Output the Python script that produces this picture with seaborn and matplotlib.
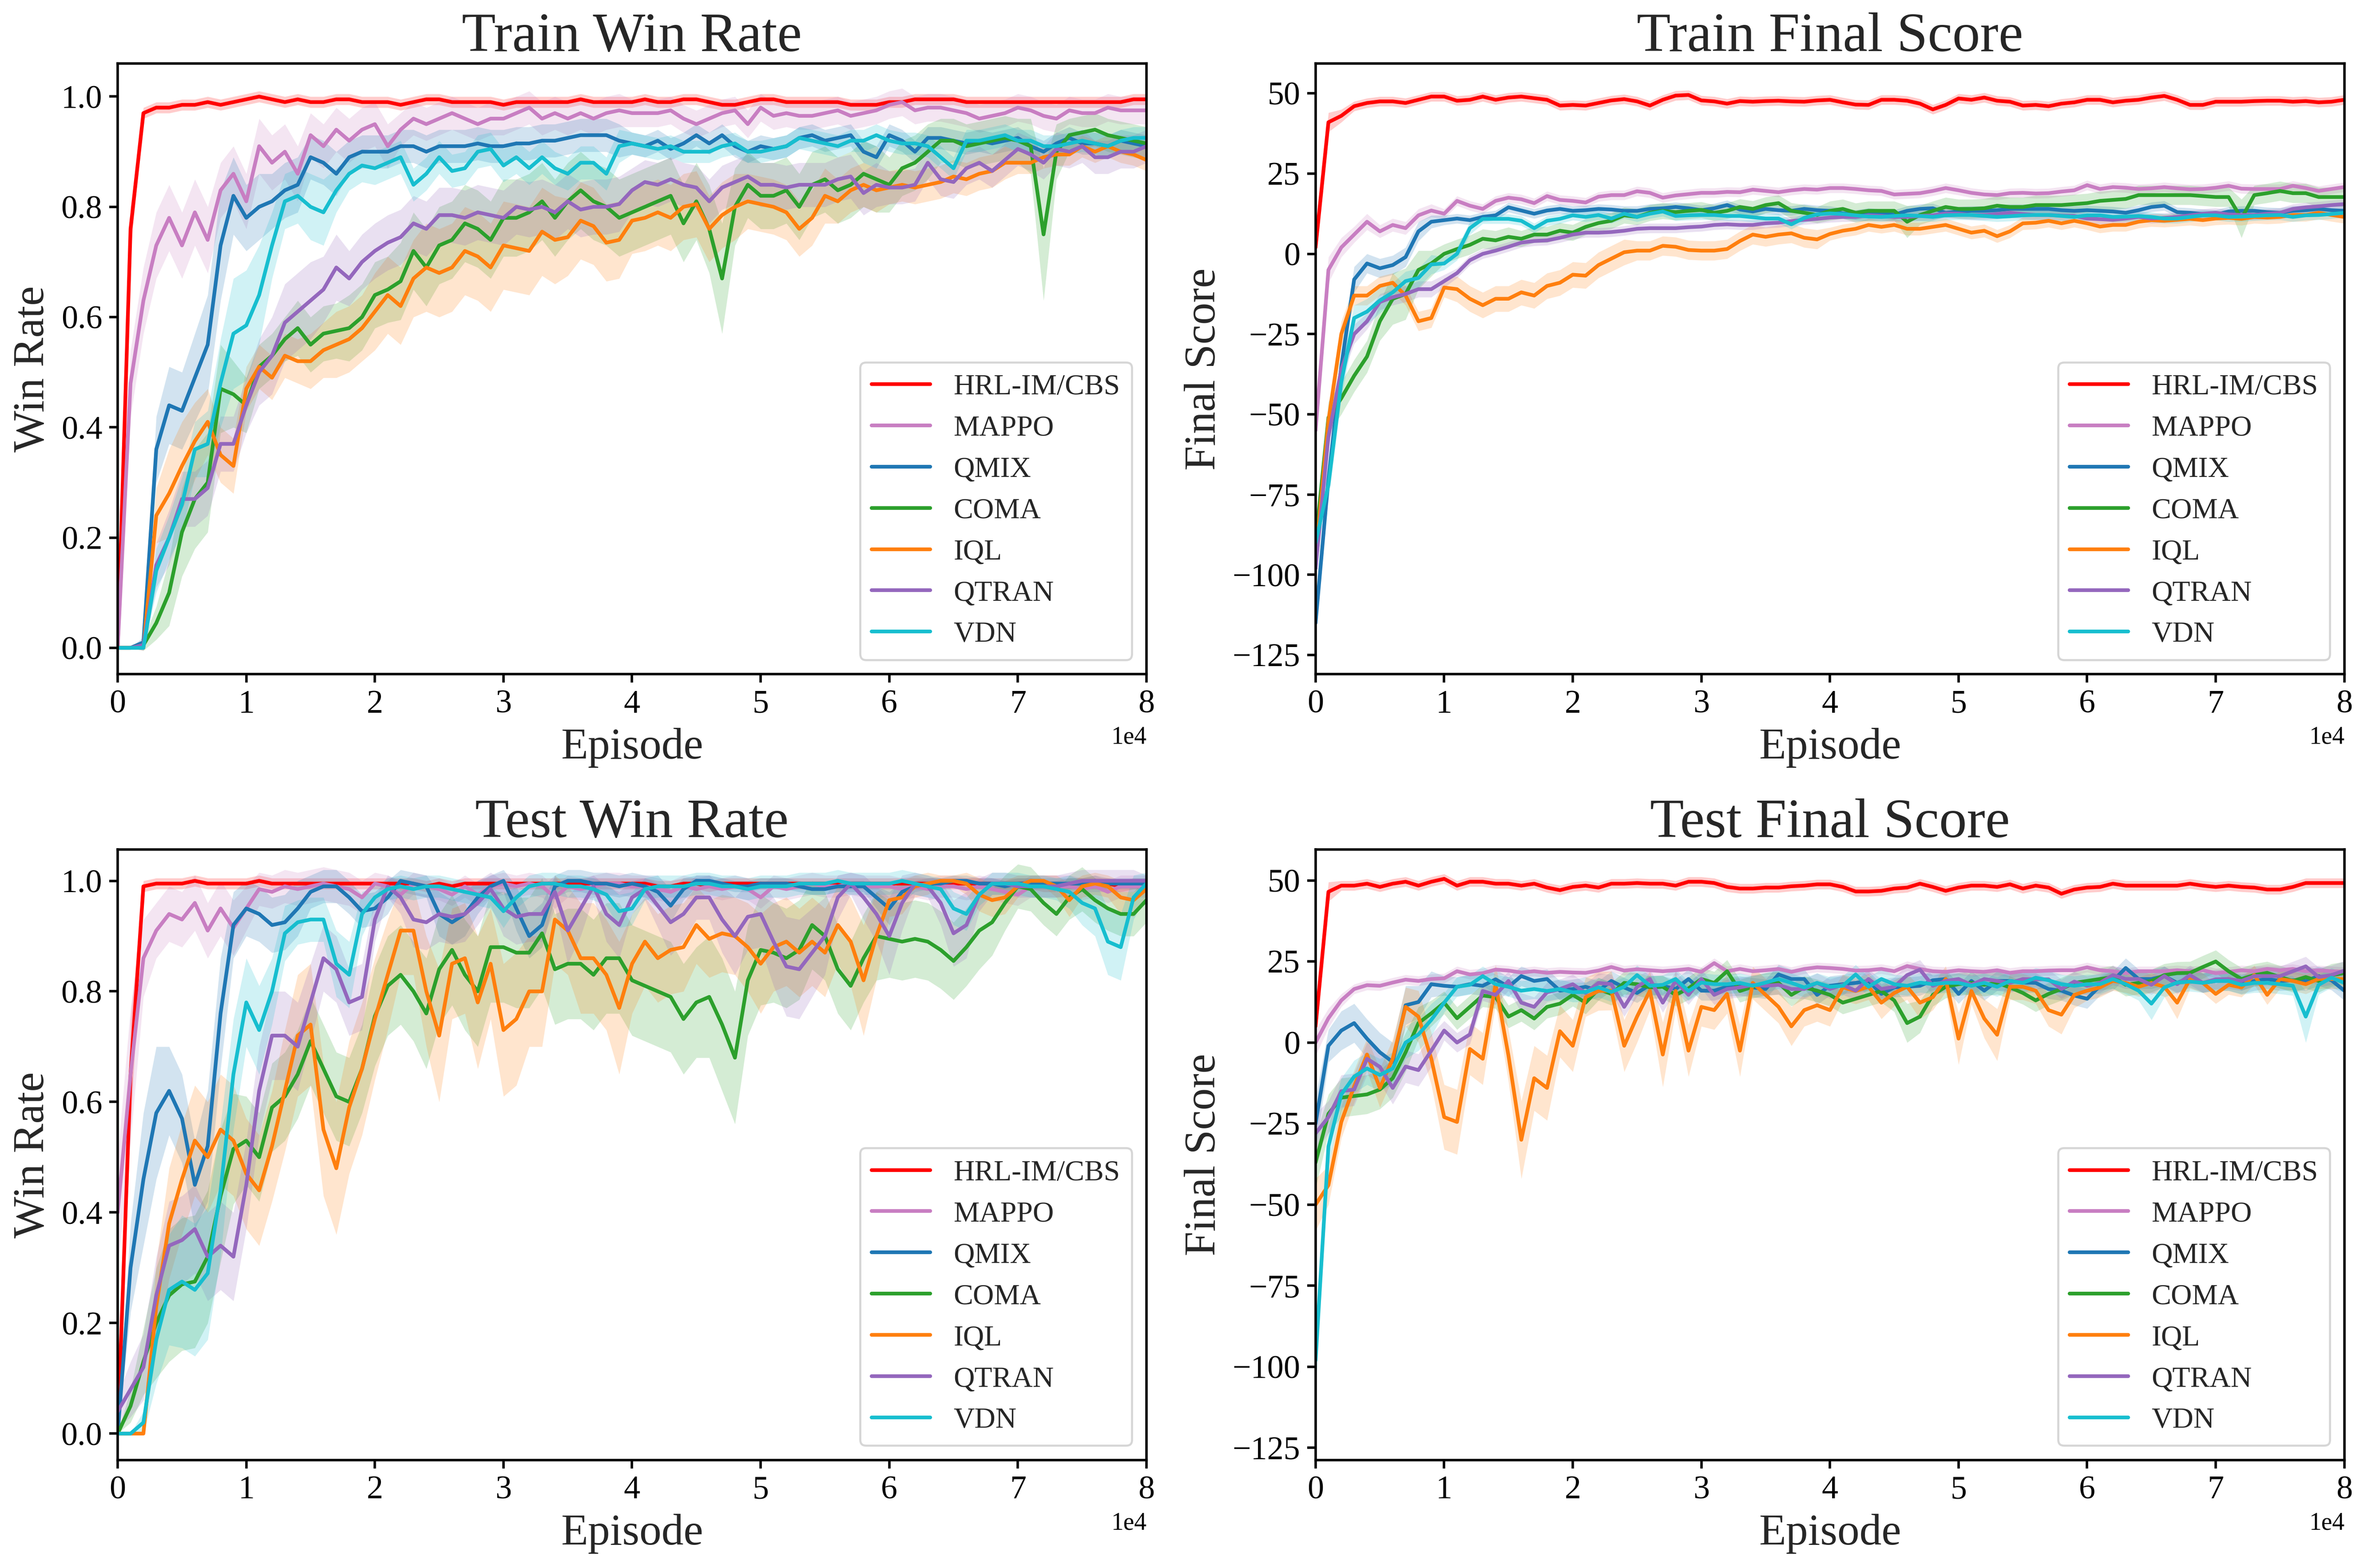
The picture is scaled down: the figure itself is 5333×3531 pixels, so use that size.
import numpy as np
import matplotlib
matplotlib.use("Agg")
import matplotlib.pyplot as plt
import seaborn as sns
from matplotlib.ticker import MultipleLocator

# x grid: one reading every 1000 episodes
episodes = np.arange(0, 80001, 1000)

methods = ["HRL-IM/CBS", "MAPPO", "QMIX", "COMA", "IQL", "QTRAN", "VDN"]
colors = ["#ff0000", "#c87ec2", "#1f77b4", "#2ca02c", "#ff7f0e", "#9467bd", "#17becf"]

# ---------------- Train win rate (percent) ----------------
trwr_hrl = [0, 76, 97, 98, 98, 98.5, 98.5, 99, 98.5, 99,
            99.5, 100, 99.5, 99, 99.5, 99, 99, 99.5, 99.5, 99,
            99, 99, 98.5, 99, 99.5, 99.5, 99, 99, 99, 99,
            98.5, 99, 99, 99, 99, 99, 99.5, 99, 99, 99,
            99, 99.5, 99, 99, 99.5, 99.5, 99, 98.5, 98.5, 99,
            99.5, 99.5, 99, 99, 99, 99, 99, 98.5, 98.5, 98.5,
            99, 99, 99.5, 99.5, 99.5, 99.5, 99, 99, 99, 99,
            99, 99, 99, 99, 99, 99, 99, 99, 99, 99.5,
            99.5]
trwr_hrl_sd = [0, 4, 1, 1, 1, 1, 1, 1, 1, 1,
               1, 1, 1, 1, 1, 1, 1, 1, 1, 1,
               1, 1, 1, 1, 1, 1, 1, 1, 1, 1,
               1, 1, 1, 1, 1, 1, 1, 1, 1, 1,
               1, 1, 1, 1, 1, 1, 1, 1, 1, 1,
               1, 1, 1, 1, 1, 1, 1, 1, 1, 1,
               1, 1, 1, 1, 1, 1, 1, 1, 1, 1,
               1, 1, 1, 1, 1, 1, 1, 1, 1, 1,
               1]
trwr_mappo = [0, 48, 63, 73, 78, 73, 79, 74, 83, 86,
              81, 91, 88, 90, 86, 93, 91, 94, 92, 94,
              95, 91, 94, 96, 95, 96, 97, 96, 95, 96,
              96, 97, 98, 96, 97, 96, 97, 96, 97, 97.5,
              97, 97, 97, 97.5, 96, 95, 96, 97, 97.5, 95,
              98, 96.5, 97, 96.5, 96.5, 97, 97.5, 96.5, 97, 97.5,
              98.5, 99, 97.5, 98, 98, 97.5, 97, 96, 96.5, 97,
              98, 97.5, 96.5, 96, 97.5, 97, 97, 98, 97.5, 97.5,
              97.5]
trwr_mappo_sd = [0, 6, 6, 6, 6, 6, 6, 6, 5, 5,
                 5, 5, 5, 5, 5, 4, 4, 4, 4, 4,
                 4, 4, 3, 3, 3, 3, 3, 3, 3, 3,
                 3, 3, 3, 3, 3, 3, 3, 3, 3, 3,
                 2.5, 2.5, 2.5, 2.5, 2.5, 2.5, 2.5, 2.5, 2.5, 2.5,
                 2.5, 2.5, 2.5, 2.5, 2.5, 2.5, 2.5, 2.5, 2.5, 2.5,
                 2.5, 2.5, 2.5, 2.5, 2.5, 2.5, 2.5, 2.5, 2.5, 2.5,
                 2.5, 2.5, 2.5, 2.5, 2.5, 2.5, 2.5, 2.5, 2.5, 2.5,
                 2.5]
trwr_qmix = [0, 0, 1, 36, 44, 43, 49, 55, 73, 82,
             78, 80, 81, 83, 84, 89, 88, 86, 89, 90,
             90, 90, 91, 91, 90, 91, 91, 91, 91.5, 91,
             91, 91.5, 91.5, 92, 92, 92.5, 93, 93, 93, 92,
             91.5, 91, 92, 90.5, 91.5, 93, 91.5, 93, 91, 90,
             91, 90.5, 91, 92.5, 93, 92, 92.5, 93, 90, 89,
             93, 92, 90, 92.5, 92.5, 92, 91.5, 92, 91.5, 92,
             92.5, 91, 90, 91.5, 92.5, 91.5, 91.5, 91, 92, 91.5,
             91]
trwr_qmix_sd = [0, 0, 1, 6, 7, 7, 8, 9, 10, 7,
                6, 6, 5, 5, 5, 4, 4, 4, 3, 3,
                3, 3, 3, 3, 3, 3, 3, 3, 3, 3,
                3, 3, 3, 3, 3, 3, 3, 3, 3, 3,
                2, 2, 2, 2, 2, 2, 2, 2, 2, 2,
                2, 2, 2, 2, 2, 2, 2, 2, 2, 2,
                2, 2, 2, 2, 2, 2, 2, 2, 2, 2,
                2, 2, 2, 2, 2, 2, 2, 2, 2, 2,
                2]
trwr_coma = [0, 0, 0.5, 4.5, 10, 21, 27, 30, 47, 46,
             44, 51, 53, 56, 58, 55, 57, 57.5, 58, 60,
             64, 65, 66.5, 72, 69, 73, 74, 77, 76, 74,
             78, 78, 79, 81, 78, 81, 83, 81, 80, 78,
             79, 80, 81, 82, 77, 81, 76, 67, 80, 84,
             82, 82, 83, 80, 84, 85, 83, 84, 86, 85,
             84, 87, 88, 90, 92, 92, 91, 91.5, 92, 92.5,
             92, 91, 75, 90, 93, 93.5, 94, 93, 92.5, 92,
             91.5]
trwr_coma_sd = [0, 0, 1, 3, 6, 8, 9, 9, 8, 6,
                5, 4, 4, 4, 5, 5, 5, 5, 6, 6,
                6, 6, 7, 7, 7, 7, 7, 7, 7, 7,
                7, 7, 7, 7, 7, 7, 7, 7, 7, 7,
                7, 7, 7, 7, 7, 7, 8, 10, 7, 6,
                6, 6, 6, 6, 6, 6, 6, 6, 6, 6,
                5, 5, 5, 5, 4, 4, 4, 4, 4, 4,
                4, 5, 12, 5, 3, 3, 3, 3, 3, 3,
                3]
trwr_iql = [0, 0, 0, 24, 28, 33, 37.5, 41, 35, 33,
            47, 51, 49, 53, 52, 52, 54, 55, 56, 58,
            61, 64, 62, 67, 69, 68, 69, 72, 71, 69,
            73, 72.5, 72, 75.5, 74, 74.5, 77.5, 76.5, 73.5, 74,
            77.5, 78, 79, 78, 80, 80.5, 76, 78.5, 80, 81,
            80.5, 80, 79, 76, 78, 82, 81, 83, 84, 83,
            83.5, 84, 83.5, 84, 84.5, 85.5, 85, 86, 86.5, 88,
            88, 88, 89, 89.5, 89.5, 91, 90, 91, 90, 89.5,
            88.5]
trwr_iql_sd = [0, 0, 0, 5, 8, 8, 7, 6, 5, 5,
               4, 4, 4, 4, 4, 5, 5, 6, 6, 6,
               7, 7, 7, 7, 8, 8, 8, 8, 8, 8,
               8, 8, 8, 8, 8, 7, 7, 7, 7, 7,
               6, 6, 6, 6, 6, 6, 6, 6, 6, 5,
               5, 5, 5, 5, 5, 5, 4, 4, 4, 4,
               3, 3, 3, 3, 3, 3, 3, 3, 3, 3,
               2, 2, 2, 2, 2, 2, 2, 2, 2, 2,
               2]
trwr_qtran = [0, 0, 0.5, 15, 20, 27, 27, 29, 37, 37,
              44, 50, 53, 59, 61, 63, 65, 69, 67, 70,
              72, 73.5, 74.5, 77, 76, 78.5, 78.5, 78, 79, 78.5,
              78, 80, 79.5, 80, 79, 81, 79.5, 80, 80, 80.5,
              83, 84.5, 84, 85, 84, 83.5, 81, 83.5, 84.5, 85.5,
              84, 84, 83.5, 84, 84, 84, 85, 85.5, 82.5, 84,
              83.5, 83.5, 84, 88, 85, 84.5, 87, 88, 86.5, 88.5,
              90.5, 89.5, 88, 90.5, 90, 91, 89, 89, 90, 90,
              91]
trwr_qtran_sd = [0, 0, 1, 4, 5, 5, 5, 5, 5, 5,
                 5, 6, 7, 7, 7, 7, 6, 6, 5, 5,
                 5, 5, 5, 5, 5, 5, 5, 5, 5, 5,
                 5, 5, 5, 5, 5, 5, 5, 5, 5, 5,
                 4, 4, 4, 4, 4, 4, 4, 4, 4, 4,
                 4, 4, 4, 4, 4, 4, 4, 4, 4, 4,
                 3, 3, 3, 3, 3, 3, 3, 3, 3, 3,
                 3, 3, 3, 3, 3, 3, 3, 3, 3, 3,
                 3]
trwr_vdn = [0, 0, 0, 14, 20, 26, 36, 37, 48, 57,
            58.5, 64, 73, 81, 82, 80, 79, 83, 86, 87.5,
            87, 88, 89, 84, 86, 89, 86.5, 87, 90, 90.5,
            87.5, 89, 87, 89, 87, 86, 88, 88, 86, 91,
            91.5, 91, 90.5, 91, 90, 90, 90, 91, 91.5, 90,
            90, 90.5, 91, 92.5, 92, 91.5, 91, 92, 92, 93,
            92, 91.5, 91.5, 91, 89, 87, 92, 92, 92.5, 93,
            92, 92, 91, 91, 91.5, 92, 91.5, 91, 92, 92.5,
            92.5]
trwr_vdn_sd = [0, 0, 0, 4, 4, 5, 5, 6, 8, 10,
               10, 9, 6, 5, 5, 6, 6, 4, 3, 3,
               3, 3, 3, 3, 3, 3, 3, 3, 3, 3,
               3, 3, 3, 3, 3, 3, 3, 3, 3, 3,
               2, 2, 2, 2, 2, 2, 2, 2, 2, 2,
               2, 2, 2, 2, 2, 2, 2, 2, 2, 2,
               2, 2, 2, 2, 2, 2, 2, 2, 2, 2,
               2, 2, 2, 2, 2, 2, 2, 2, 2, 2,
               2]

# ---------------- Train final score ----------------
trsc_hrl = [2, 41, 43, 46, 47, 47.5, 47.5, 47, 48, 49,
            49, 47.7, 48, 49, 48, 48.7, 49, 48.5, 48, 46.2,
            46.4, 46.2, 47, 47.8, 48.2, 47.5, 46.2, 48, 49.3, 49.5,
            47.8, 47.5, 46.8, 47.6, 47.4, 47.6, 47.7, 47.5, 47.4, 47.8,
            48, 47.2, 46.5, 46.4, 48, 48, 47.7, 46.8, 45, 46.4,
            48.4, 48, 48.7, 47.7, 47.4, 46.2, 46.4, 46, 46.8, 47.2,
            48, 48, 47.2, 47.7, 48, 48.7, 49.2, 48, 46.4, 46.4,
            47.4, 47.4, 47.4, 47.6, 47.7, 47.7, 47.4, 47.6, 47.2, 47.4,
            48]
trsc_hrl_sd = [2, 3, 2, 1.5, 1.5, 1.5, 1.5, 1.5, 1.5, 1.5,
               1.5, 1.5, 1.5, 1.5, 1.5, 1.5, 1.5, 1.5, 1.5, 1.5,
               1.5, 1.5, 1.5, 1.5, 1.5, 1.5, 1.5, 1.5, 1.5, 1.5,
               1.5, 1.5, 1.5, 1.5, 1.5, 1.5, 1.5, 1.5, 1.5, 1.5,
               1.5, 1.5, 1.5, 1.5, 1.5, 1.5, 1.5, 1.5, 1.5, 1.5,
               1.5, 1.5, 1.5, 1.5, 1.5, 1.5, 1.5, 1.5, 1.5, 1.5,
               1.5, 1.5, 1.5, 1.5, 1.5, 1.5, 1.5, 1.5, 1.5, 1.5,
               1.5, 1.5, 1.5, 1.5, 1.5, 1.5, 1.5, 1.5, 1.5, 1.5,
               1.5]
trsc_mappo = [-55, -5, 2, 6, 10, 7, 9, 8, 12, 13.5,
              12.5, 16.5, 15, 14, 16.5, 17.5, 17, 15.8, 18, 16.8,
              16.5, 16, 17.8, 18.3, 18.3, 19.5, 19, 17.5, 18.2, 18.6,
              19, 19, 19.3, 19.2, 20, 19.6, 19.2, 19.8, 20.2, 20,
              20.5, 20.5, 20.2, 19.8, 19.6, 18.5, 18.7, 18.9, 19.6, 20.5,
              19.8, 19, 18.5, 18.3, 18.9, 19, 18.8, 18.9, 19.4, 19.8,
              21.4, 20.2, 20.8, 20.6, 20.2, 20.4, 20.8, 20.4, 20.1, 20.2,
              20.6, 21.2, 20.3, 20.2, 20.2, 20.2, 21.2, 20.5, 19.6, 20.2,
              20.8]
trsc_mappo_sd = [5, 4, 3, 2.5, 2.5, 2, 2, 2, 2, 2,
                 1.5, 1.5, 1.5, 1.5, 1.5, 1.5, 1.5, 1.5, 1.5, 1.5,
                 1.5, 1.5, 1.5, 1.5, 1.5, 1.5, 1.5, 1.5, 1.5, 1.5,
                 1.5, 1.5, 1.5, 1.5, 1.5, 1.5, 1.5, 1.5, 1.5, 1.5,
                 1.5, 1.5, 1.5, 1.5, 1.5, 1.5, 1.5, 1.5, 1.5, 1.5,
                 1.5, 1.5, 1.5, 1.5, 1.5, 1.5, 1.5, 1.5, 1.5, 1.5,
                 1.5, 1.5, 1.5, 1.5, 1.5, 1.5, 1.5, 1.5, 1.5, 1.5,
                 1.5, 1.5, 1.5, 1.5, 1.5, 1.5, 1.5, 1.5, 1.5, 1.5,
                 1.5]
trsc_qmix = [-115, -70, -35, -8, -3, -4.5, -3.5, -1, 7, 10,
             10.5, 11, 10.5, 11.5, 12, 14.5, 13.5, 12.5, 13.5, 14,
             13.4, 13.6, 14, 13.8, 13.4, 13.4, 14, 14.2, 14.6, 14.2,
             13.6, 14.2, 15.2, 13.8, 13.2, 14, 13.6, 13.4, 14, 13.6,
             13.4, 12.6, 12.2, 12.8, 12.4, 12.2, 13.4, 14, 14.2, 12.8,
             13.2, 13.4, 13.4, 13.6, 14, 14, 14, 14, 13.6, 13.4,
             13.6, 13.4, 13.2, 12.8, 13.6, 14.6, 15, 13, 12.8, 12.4,
             12.2, 13.2, 13.4, 13.4, 13, 12.8, 13.4, 13.6, 14, 13.6,
             13.4]
trsc_qmix_sd = [3, 5, 5, 4, 3, 3, 3, 3, 3, 2,
                1.5, 1.5, 1.5, 1.5, 1.5, 1.5, 1.5, 1.5, 1.5, 1.5,
                1.5, 1.5, 1.5, 1.5, 1.5, 1.5, 1.5, 1.5, 1.5, 1.5,
                1.5, 1.5, 1.5, 1.5, 1.5, 1.5, 1.5, 1.5, 1.5, 1.5,
                1.5, 1.5, 1.5, 1.5, 1.5, 1.5, 1.5, 1.5, 1.5, 1.5,
                1.5, 1.5, 1.5, 1.5, 1.5, 1.5, 1.5, 1.5, 1.5, 1.5,
                1.5, 1.5, 1.5, 1.5, 1.5, 1.5, 1.5, 1.5, 1.5, 1.5,
                1.5, 1.5, 1.5, 1.5, 1.5, 1.5, 1.5, 1.5, 1.5, 1.5,
                1.5]
trsc_coma = [-90, -51, -45, -38, -32, -21, -14, -12.5, -5, -3,
             0, 1.5, 2.8, 4.7, 4.2, 5.3, 4.7, 6, 6, 7.2,
             6.6, 8.4, 9.6, 10.3, 12, 11.5, 12.8, 13.4, 13, 13.4,
             13.7, 12.8, 13.4, 14.6, 14, 15.2, 15.8, 13.4, 12.8, 12.1,
             13.4, 14, 12.8, 13.4, 13.4, 13.4, 10, 12.1, 13.4, 14.6,
             14, 14, 14.2, 15, 14.6, 14.6, 15.2, 15.2, 15.2, 15.5,
             15.8, 16.5, 16.8, 17.1, 18.3, 18.3, 18.3, 18.3, 18.3, 18,
             17.7, 17.7, 11, 18.3, 18.9, 19.6, 18.9, 18.9, 17.7, 17.7,
             17.7]
trsc_coma_sd = [5, 5, 5, 5, 5, 6, 8, 8, 6, 4,
                3, 3, 3, 3, 3, 3, 2.5, 2.5, 2.5, 2.5,
                2.5, 2.5, 2.5, 2.5, 2.5, 2.5, 2.5, 2.5, 2.5, 2.5,
                2.5, 2.5, 2.5, 2.5, 2.5, 2.5, 2.5, 2.5, 2.5, 2.5,
                3, 3, 3, 3, 3, 3, 5, 3, 3, 3,
                3, 3, 3, 3, 3, 3, 3, 3, 3, 3,
                3, 3, 3, 3, 3, 3, 3, 3, 3, 3,
                3, 3, 6, 3, 3, 3, 3, 3, 3, 3,
                3]
trsc_iql = [-95, -52, -25, -13, -13, -10, -9, -13, -21, -20,
            -10.5, -11, -14, -16, -14, -14, -12, -13, -10, -9,
            -6.5, -6.8, -3.5, -1.5, 0.5, 1, 1, 2.5, 2.2, 1.2,
            1, 1, 1.5, 4, 6, 5.3, 6, 6.4, 5, 4.5,
            6.2, 7.2, 7.8, 9, 8.4, 9, 7.8, 7.8, 8.4, 9,
            7.8, 6.6, 7.2, 5.5, 7, 9.5, 9.7, 10.3, 9.5, 10.3,
            9.5, 8.5, 9, 9, 10, 10.5, 10.3, 10.6, 10.9, 10.5,
            11, 11.2, 10.9, 11.5, 11.3, 11.5, 12.1, 12.1, 12.8, 12.1,
            11.5]
trsc_iql_sd = [5, 5, 4, 3, 3, 3, 3, 3, 3, 3,
               3, 4, 4, 4, 4, 4, 4, 4, 4, 4,
               4, 4, 4, 4, 4, 3, 3, 3, 3, 3,
               3, 3, 3, 3, 3, 3, 3, 3, 3, 3,
               2, 2, 2, 2, 2, 2, 2, 2, 2, 2,
               2, 2, 2, 2, 2, 2, 2, 2, 2, 2,
               2, 2, 2, 2, 2, 2, 2, 2, 2, 2,
               2, 2, 2, 2, 2, 2, 2, 2, 2, 2,
               2]
trsc_qtran = [-98, -57, -36, -25, -21, -15, -13.5, -12.5, -11, -11,
              -8.5, -6, -2, 0, 1, 2.2, 3.5, 4, 4.2, 5,
              6, 6.6, 6.6, 6.8, 7.2, 7.8, 8, 8, 8, 8.3,
              8.5, 9, 9.2, 9, 9, 9.5, 9.7, 10.2, 10.6, 10.9,
              11.3, 11.5, 11.5, 12, 11.8, 11.5, 11.5, 11.8, 12, 12.6,
              12.5, 12.1, 12.1, 12.4, 12.8, 12.4, 12.1, 12.1, 11.9, 11.8,
              11, 10.8, 10.6, 11, 11.5, 11, 11.2, 11.5, 12, 12.5,
              12.8, 12.3, 12.1, 12.1, 12.5, 12.8, 14, 14.5, 14.8, 15.2,
              15.5]
trsc_qtran_sd = [4, 4, 3, 3, 2.5, 2.5, 2.5, 2.5, 2.5, 2.5,
                 2, 1.5, 1.5, 1.5, 1.5, 1.5, 1.5, 1.5, 1.5, 1.5,
                 1.5, 1.5, 1.5, 1.5, 1.5, 1.5, 1.5, 1.5, 1.5, 1.5,
                 1.5, 1.5, 1.5, 1.5, 1.5, 1.5, 1.5, 1.5, 1.5, 1.5,
                 1.5, 1.5, 1.5, 1.5, 1.5, 1.5, 1.5, 1.5, 1.5, 1.5,
                 1.5, 1.5, 1.5, 1.5, 1.5, 1.5, 1.5, 1.5, 1.5, 1.5,
                 1.5, 1.5, 1.5, 1.5, 1.5, 1.5, 1.5, 1.5, 1.5, 1.5,
                 1.5, 1.5, 1.5, 1.5, 1.5, 1.5, 1.5, 1.5, 1.5, 1.5,
                 1.5]
trsc_vdn = [-90, -72, -40, -20, -18, -14.5, -12, -8.5, -7.5, -3.3,
            -3, 0, 8, 10.9, 10.9, 10.9, 10.3, 8, 10.3, 10.9,
            12, 11.5, 12.1, 11, 12.5, 11.5, 12.5, 13.2, 11.8, 12,
            12.1, 12.1, 11.8, 11.8, 11.4, 11, 11, 9.2, 11.2, 12.3,
            12.6, 12.4, 12, 11.6, 11.5, 11.8, 12, 11.8, 11.5, 12,
            12.1, 12.1, 11.8, 11.5, 11.7, 12, 12.1, 12.1, 11.8, 11.5,
            12, 12, 11.5, 11.6, 11.8, 11.5, 11, 11, 11.5, 12,
            12, 11.5, 11.6, 11.8, 12, 12.1, 11.5, 12, 12.1, 12.4,
            12.8]
trsc_vdn_sd = [3, 5, 5, 4, 4, 4, 3, 3, 3, 3,
               2, 2, 2, 1.5, 1.5, 1.5, 1.5, 1.5, 1.5, 1.5,
               1.5, 1.5, 1.5, 1.5, 1.5, 1.5, 1.5, 1.5, 1.5, 1.5,
               1.5, 1.5, 1.5, 1.5, 1.5, 1.5, 1.5, 1.5, 1.5, 1.5,
               1.5, 1.5, 1.5, 1.5, 1.5, 1.5, 1.5, 1.5, 1.5, 1.5,
               1.5, 1.5, 1.5, 1.5, 1.5, 1.5, 1.5, 1.5, 1.5, 1.5,
               1.5, 1.5, 1.5, 1.5, 1.5, 1.5, 1.5, 1.5, 1.5, 1.5,
               1.5, 1.5, 1.5, 1.5, 1.5, 1.5, 1.5, 1.5, 1.5, 1.5,
               1.5]

# ---------------- Test win rate (percent) ----------------
tewr_hrl = [0, 65, 99, 99.5, 99.5, 99.5, 100, 99.5, 99.5, 99.5,
            99.5, 100, 99.5, 99.5, 99.5, 99.5, 99.5, 99.5, 99.5, 99.5,
            99.5, 99.5, 99.5, 99.5, 99, 99.5, 99, 99.5, 99.5, 99.5,
            99.5, 99.5, 99.5, 99.5, 99.5, 99.5, 99.5, 99.5, 99.5, 99.5,
            99.5, 99.5, 99, 99, 99.5, 99.5, 99, 99.5, 99.5, 99.5,
            99.5, 99.5, 99.5, 99.5, 99.5, 99.5, 99.5, 99.5, 99.5, 99.5,
            99.5, 99.5, 99.5, 99.5, 99.5, 99.5, 99.5, 99.5, 99.5, 99.5,
            99.5, 99.5, 99, 99, 99.5, 99.5, 99.5, 99.5, 99, 99.5,
            99.5]
tewr_hrl_sd = [0, 10, 1, 1, 1, 1, 1, 1, 1, 1,
               1, 1, 1, 1, 1, 1, 1, 1, 1, 1,
               1, 1, 1, 1, 1, 1, 1, 1, 1, 1,
               1, 1, 1, 1, 1, 1, 1, 1, 1, 1,
               1, 1, 1, 1, 1, 1, 1, 1, 1, 1,
               1, 1, 1, 1, 1, 1, 1, 1, 1, 1,
               1, 1, 1, 1, 1, 1, 1, 1, 1, 1,
               1, 1, 1, 1, 1, 1, 1, 1, 1, 1,
               1]
tewr_mappo = [40, 65, 86, 91, 94, 93, 96, 91, 95, 91.5,
              95, 98.5, 98, 99, 98.5, 99, 99.5, 99, 98.5, 97,
              99.5, 99, 97.5, 99.5, 99, 98.5, 97.5, 99, 97.5, 99,
              99.5, 99, 99.5, 99, 97, 99, 98.5, 99, 99.5, 99.5,
              99, 99, 98.5, 98, 99, 98.5, 99, 98.5, 99, 98.5,
              97, 99, 98.5, 99, 99.5, 99, 99, 99.5, 99, 99,
              99, 98.5, 99, 98.5, 99, 99, 98.5, 99, 98.5, 98,
              97.5, 99, 99, 99, 99, 98.5, 99, 98, 99, 99,
              99]
tewr_mappo_sd = [10, 12, 7, 5, 5, 5, 5, 5, 5, 5,
                 4, 3, 3, 3, 3, 3, 3, 3, 3, 3,
                 2, 2, 2, 2, 2, 2, 2, 2, 2, 2,
                 2, 2, 2, 2, 2, 2, 2, 2, 2, 2,
                 2, 2, 2, 2, 2, 2, 2, 2, 2, 2,
                 2, 2, 2, 2, 2, 2, 2, 2, 2, 2,
                 2, 2, 2, 2, 2, 2, 2, 2, 2, 2,
                 2, 2, 2, 2, 2, 2, 2, 2, 2, 2,
                 2]
tewr_qmix = [0, 30, 46, 58, 62, 57, 45, 52, 76, 92,
             95, 94, 92, 92.5, 95, 98, 99, 99, 97, 94.5,
             95, 97, 100, 99.5, 99, 94, 92.5, 94, 97, 99,
             100, 95, 90, 92, 99, 100, 100, 99.5, 99.5, 99,
             99.5, 99, 98, 95.5, 98.5, 100, 100, 99.5, 99, 99,
             99.5, 99.5, 99.5, 99, 98.5, 98.5, 99, 99, 99, 97,
             95, 98, 99, 99.5, 99.5, 100, 100, 99.5, 99.5, 99,
             99.5, 99.5, 99.5, 99.5, 99.5, 99.5, 100, 99.5, 99.5, 99.5,
             99.5]
tewr_qmix_sd = [0, 8, 12, 12, 8, 8, 8, 10, 10, 6,
                5, 5, 5, 5, 5, 3, 3, 3, 3, 3,
                3, 3, 2, 2, 2, 4, 4, 4, 3, 2,
                2, 4, 4, 4, 2, 2, 2, 2, 2, 2,
                2, 2, 3, 3, 2, 1, 1, 1, 1, 1,
                1, 1, 1, 1, 1, 1, 1, 1, 1, 2,
                3, 2, 1, 1, 1, 1, 1, 1, 1, 1,
                1, 1, 1, 1, 1, 1, 1, 1, 1, 1,
                1]
tewr_coma = [0, 5, 13, 20, 25, 27, 27.5, 32, 43, 51.5,
             53, 50, 59, 61, 65, 71, 66, 61, 60, 66,
             75.5, 81, 83, 80, 76, 84, 87.5, 83, 80, 88,
             88, 87, 87, 90.5, 84, 85, 85, 83, 86, 86,
             82, 81, 80, 79, 75, 78, 79, 74, 68, 82,
             87.5, 87, 86, 87.5, 92, 90, 84, 81, 86, 90,
             89.5, 89, 89.5, 89, 87.5, 85.5, 88, 91, 92.5, 96,
             99, 98.5, 96, 94, 97, 98.5, 96.5, 95, 94, 94,
             96.5]
tewr_coma_sd = [0, 3, 6, 10, 12, 12, 12, 12, 12, 10,
                8, 8, 8, 8, 8, 8, 8, 8, 8, 8,
                9, 9, 9, 9, 10, 10, 10, 10, 10, 10,
                10, 10, 10, 10, 10, 10, 10, 10, 10, 10,
                10, 10, 10, 10, 10, 10, 11, 12, 12, 10,
                10, 9, 9, 9, 8, 8, 8, 8, 8, 8,
                7, 7, 7, 7, 7, 7, 7, 7, 6, 5,
                4, 4, 4, 4, 4, 4, 4, 4, 4, 4,
                4]
tewr_iql = [0, 0, 0, 23, 38, 46, 53, 50, 55, 53,
            47, 44, 52, 62, 72, 74, 55, 48, 59, 66,
            75, 83, 91, 91, 80, 72, 85, 86, 78, 85,
            73, 75, 80, 80, 93, 91, 86, 86, 83, 77,
            85, 89, 86, 87.5, 88, 92, 89.5, 90.5, 90, 88,
            85, 88, 89, 87, 89, 87, 92, 89, 82, 90,
            96.5, 97, 99, 99.5, 100, 100, 99.5, 97.5, 96.5, 97,
            99, 100, 100, 99, 96.5, 99, 99.5, 99, 97, 96.5,
            98.5]
tewr_iql_sd = [0, 0, 0, 8, 10, 10, 10, 10, 10, 10,
               10, 10, 10, 11, 11, 11, 12, 12, 12, 12,
               11, 10, 8, 8, 10, 12, 10, 10, 12, 10,
               12, 12, 10, 10, 8, 8, 10, 10, 10, 12,
               9, 8, 8, 8, 8, 7, 7, 7, 7, 8,
               9, 8, 8, 8, 8, 8, 7, 8, 10, 8,
               3, 3, 2, 2, 1, 1, 2, 3, 3, 3,
               2, 1, 1, 2, 3, 2, 2, 2, 3, 3,
               2]
tewr_qtran = [4, 8, 12, 25, 34, 35, 37, 32, 34, 32,
              45, 62, 72, 72, 70, 78, 86, 84, 78, 79,
              93, 99, 97, 93, 92.5, 94, 93.5, 94, 96, 98.5,
              95, 93.5, 94, 94, 98, 91, 95, 99, 94, 92,
              97, 98.5, 95.5, 92.5, 94, 97, 97, 93, 90, 93.5,
              94, 89, 84.5, 84, 87, 90, 97, 99.5, 97, 94,
              90, 96, 99.5, 99, 96, 90.5, 92, 97.5, 99.5, 99.5,
              99, 99, 99, 99, 99.5, 100, 100, 100, 100, 100,
              100]
tewr_qtran_sd = [3, 5, 6, 7, 8, 8, 8, 8, 8, 8,
                 8, 8, 8, 8, 8, 7, 6, 6, 6, 6,
                 4, 2, 3, 5, 5, 5, 5, 5, 4, 3,
                 5, 5, 5, 5, 3, 6, 5, 2, 5, 6,
                 3, 2, 4, 6, 5, 4, 4, 6, 7, 6,
                 6, 8, 9, 9, 8, 7, 4, 2, 4, 5,
                 7, 5, 2, 2, 4, 6, 6, 3, 2, 2,
                 2, 2, 2, 2, 2, 2, 2, 2, 2, 2,
                 1]
tewr_vdn = [0, 0, 2, 17, 26, 27.5, 26, 29, 44, 65,
            78, 73, 80, 90.5, 92.5, 93, 93, 85, 83, 94,
            97, 98.5, 99, 98.5, 99, 99, 98.5, 98, 97.5, 97,
            94.5, 97, 99, 99.5, 99.5, 99, 99, 98.5, 97.5, 94.5,
            95, 98.5, 99, 99, 99, 99.5, 99.5, 99, 99, 98.5,
            99, 99, 99, 99.5, 99.5, 99.5, 100, 99.5, 99.5, 99.5,
            99.5, 100, 99.5, 99, 98.5, 95, 94, 97.5, 99.5, 99.5,
            99.5, 99, 99, 98.5, 98, 96, 95, 89, 88, 97,
            99.5]
tewr_vdn_sd = [0, 0, 2, 8, 10, 12, 12, 12, 12, 10,
               8, 8, 6, 5, 4, 4, 4, 6, 6, 4,
               2, 2, 2, 2, 2, 2, 2, 2, 2, 2,
               3, 2, 2, 2, 2, 2, 2, 2, 2, 3,
               3, 2, 2, 2, 2, 2, 2, 2, 2, 2,
               2, 2, 2, 2, 2, 2, 2, 2, 2, 2,
               2, 2, 2, 2, 2, 3, 3, 2, 2, 2,
               2, 2, 2, 2, 3, 4, 5, 6, 6, 4,
               2]

# ---------------- Test final score ----------------
tesc_hrl = [5, 46.5, 48.4, 48.4, 49, 48, 49, 49.6, 48.4, 49.6,
            50.5, 48.4, 49.6, 49.6, 49, 49, 48.4, 49, 47.8, 47,
            48, 48.4, 47.8, 49, 49, 49.2, 49, 49, 48.4, 49.6,
            49.6, 49.2, 48, 47.5, 47.5, 47.8, 47.8, 48.2, 48.4, 48.8,
            48.8, 48, 46.6, 46.6, 46.8, 47.5, 47.8, 49, 48, 46.8,
            47.8, 48.4, 48.4, 48, 48.8, 47.5, 48.4, 47.8, 45.9, 47.2,
            47.8, 48, 49, 48.4, 48.4, 48.4, 48.4, 48.4, 49, 48.4,
            48, 48.4, 48, 47.8, 47.2, 47.2, 48, 49.2, 49.2, 49.2,
            49.2]
tesc_hrl_sd = [3, 3, 1.5, 1.5, 1.5, 1.5, 1.5, 1.5, 1.5, 1.5,
               1.5, 1.5, 1.5, 1.5, 1.5, 1.5, 1.5, 1.5, 1.5, 1.5,
               1.5, 1.5, 1.5, 1.5, 1.5, 1.5, 1.5, 1.5, 1.5, 1.5,
               1.5, 1.5, 1.5, 1.5, 1.5, 1.5, 1.5, 1.5, 1.5, 1.5,
               1.5, 1.5, 1.5, 1.5, 1.5, 1.5, 1.5, 1.5, 1.5, 1.5,
               1.5, 1.5, 1.5, 1.5, 1.5, 1.5, 1.5, 1.5, 1.5, 1.5,
               1.5, 1.5, 1.5, 1.5, 1.5, 1.5, 1.5, 1.5, 1.5, 1.5,
               1.5, 1.5, 1.5, 1.5, 1.5, 1.5, 1.5, 1.5, 1.5, 1.5,
               1.5]
tesc_mappo = [0, 7.5, 13, 16.5, 17.7, 17.5, 18.5, 19.4, 19, 19.6,
              19.8, 22, 21, 21.4, 22.5, 22.2, 21.6, 22, 21.5, 21.8,
              21.6, 21.5, 22.2, 23.3, 22.2, 22.6, 22.3, 22, 22.3, 22.7,
              21.8, 24.5, 22, 22.7, 22, 22.3, 22.7, 21.8, 22.7, 23.2,
              23, 22.7, 22.2, 22.3, 22.7, 22, 23.6, 22.7, 22, 21.8,
              22.3, 22, 21.8, 22.3, 21.5, 22, 22, 22.2, 22.3, 22.3,
              23.2, 22.3, 22, 21.4, 22, 22, 22, 22.3, 22, 22.3,
              21.4, 21.8, 22.3, 22, 22.7, 22.3, 22.7, 22, 22.3, 22,
              21.8]
tesc_mappo_sd = [4, 3, 2, 1.5, 1.5, 1.5, 1.5, 1.5, 1.5, 1.5,
                 1.5, 1.5, 1.5, 1.5, 1.5, 1.5, 1.5, 1.5, 1.5, 1.5,
                 1.5, 1.5, 1.5, 1.5, 1.5, 1.5, 1.5, 1.5, 1.5, 1.5,
                 1.5, 1.5, 1.5, 1.5, 1.5, 1.5, 1.5, 1.5, 1.5, 1.5,
                 1.5, 1.5, 1.5, 1.5, 1.5, 1.5, 1.5, 1.5, 1.5, 1.5,
                 1.5, 1.5, 1.5, 1.5, 1.5, 1.5, 1.5, 1.5, 1.5, 1.5,
                 1.5, 1.5, 1.5, 1.5, 1.5, 1.5, 1.5, 1.5, 1.5, 1.5,
                 1.5, 1.5, 1.5, 1.5, 1.5, 1.5, 1.5, 1.5, 1.5, 1.5,
                 1.5]
tesc_qmix = [-25, -1, 3.7, 6, 1.2, -3, -6, 11.5, 12.5, 18,
             17.5, 17.2, 18, 17.5, 19.5, 17.2, 20.5, 19, 19.6, 16,
             16.5, 17.2, 16, 19, 17, 15.3, 17.8, 17.5, 16.5, 19.6,
             16, 16, 17.2, 17.5, 17, 16.5, 21, 19.6, 19.6, 14.7,
             17.5, 18, 18.4, 19, 15, 17, 17.2, 17.5, 19.2, 19.6,
             15, 19, 16, 19, 19, 18.5, 18.4, 16.5, 16, 14.5,
             13.5, 17.5, 19, 23, 19.6, 19.6, 20.5, 18.4, 20, 18.4,
             19, 19, 18, 19, 19.6, 19, 19.2, 19, 20.5, 19.2,
             16]
tesc_qmix_sd = [8, 5, 6, 6, 6, 6, 6, 6, 5, 4,
                3, 3, 3, 3, 3, 3, 3, 3, 3, 3,
                3, 3, 3, 3, 3, 3, 3, 3, 3, 3,
                3, 3, 3, 3, 3, 3, 3, 3, 3, 3,
                3, 3, 3, 3, 3, 3, 3, 3, 3, 3,
                3, 3, 3, 3, 3, 3, 3, 3, 3, 3,
                3, 3, 3, 3, 3, 3, 3, 3, 3, 3,
                3, 3, 3, 3, 3, 3, 3, 3, 3, 3,
                3]
tesc_coma = [-37, -22, -17, -16.5, -16, -14.5, -11, -3, 6, 9,
             12.3, 7.5, 11, 14.5, 14, 8, 10, 7.4, 11, 12,
             14.7, 12.3, 16.5, 15, 18.4, 18, 17, 17.2, 14.7, 16.7,
             19.6, 18.4, 22, 15.9, 17.2, 18, 18.4, 14.7, 17, 16,
             14.7, 12.3, 13.5, 14.7, 15.9, 13, 6, 8, 14.7, 17.2,
             18, 18.4, 17.8, 18.4, 17, 15.3, 13, 15, 16.5, 18.4,
             19, 19.6, 20.2, 17.8, 18.4, 19, 20.8, 21.4, 21.5, 23.3,
             25, 22, 19.6, 20.8, 21.5, 20.2, 19, 20.2, 19, 20.8,
             21.4]
tesc_coma_sd = [8, 6, 6, 6, 6, 6, 6, 6, 5, 4,
                3.5, 3.5, 3.5, 3.5, 3.5, 3.5, 3.5, 3.5, 3.5, 3.5,
                3.5, 3.5, 3.5, 3.5, 3.5, 3.5, 3.5, 3.5, 3.5, 3.5,
                3.5, 3.5, 3.5, 3.5, 3.5, 3.5, 3.5, 3.5, 3.5, 3.5,
                3.5, 3.5, 3.5, 3.5, 3.5, 3.5, 6, 5, 3.5, 3.5,
                3.5, 3.5, 3.5, 3.5, 3.5, 3.5, 3.5, 3.5, 3.5, 3.5,
                3.5, 3.5, 3.5, 3.5, 3.5, 3.5, 3.5, 3.5, 3.5, 3.5,
                3.5, 3.5, 3.5, 3.5, 3.5, 3.5, 3.5, 3.5, 3.5, 3.5,
                3.5]
tesc_iql = [-50, -44, -24.5, -13.5, -3.7, -14, -5, 11, 8, -5,
            -23, -24.5, -2, -5, 18, -4, -30, -11, -14, 3.5,
            -1, 14, 15.9, 16, -1, 8, 16, -3.7, 15.9, -2.5,
            11, 10, 15, -2.5, 18.4, 14.7, 11, 5, 10, 11.5,
            10, 17, 15.9, 17.2, 12.3, 15.3, 17.2, 12.3, 14, 19.6,
            1.2, 15.9, 7.4, 2.4, 17.2, 17.2, 16, 10, 8.6, 14.7,
            16, 17, 19, 18.4, 17.2, 18.4, 17.2, 12.3, 19.6, 18.4,
            15, 17.8, 17, 20.8, 14.7, 19.6, 19, 18, 19.6, 19.6,
            19.6]
tesc_iql_sd = [8, 6, 5, 5, 5, 6, 6, 6, 8, 8,
               10, 10, 8, 8, 6, 8, 12, 10, 10, 8,
               8, 6, 6, 6, 8, 8, 6, 10, 6, 8,
               6, 6, 6, 8, 5, 5, 5, 6, 5, 5,
               5, 4, 4, 4, 5, 4, 4, 5, 4, 4,
               8, 4, 6, 8, 4, 4, 4, 5, 6, 4,
               3, 3, 3, 3, 3, 3, 3, 5, 3, 3,
               3, 3, 3, 3, 3, 3, 3, 3, 3, 3,
               3]
tesc_qtran = [-28, -23, -15, -14.5, -5, -7.5, -14, -7.4, -8.5, -2.5,
              3.7, 0, 2.5, 15.9, 14.7, 19, 12.3, 11, 15.5, 16.5,
              18, 15.3, 18.4, 18, 11, 17.2, 19.6, 12.3, 19, 14.7,
              19.6, 14.7, 16.5, 17, 17.8, 17.5, 17.8, 16.5, 16.5, 18.4,
              16.5, 17.8, 16, 19.6, 16.5, 17.2, 20.8, 22.5, 17.5, 19,
              19.6, 17.8, 19.6, 19, 18.4, 19.6, 19.5, 19.5, 16.5, 18.8,
              17.5, 18.4, 20.8, 19.6, 19.6, 17.8, 20.5, 18, 20.8, 18.4,
              19.5, 19.6, 19, 20.5, 20.5, 20.5, 22, 23.5, 20.2, 20.8,
              22.2]
tesc_qtran_sd = [6, 5, 5, 5, 5, 5, 5, 5, 5, 5,
                 3, 3, 3, 3, 3, 3, 3, 3, 3, 3,
                 3, 3, 3, 3, 3, 3, 3, 3, 3, 3,
                 3, 3, 3, 3, 3, 3, 3, 3, 3, 3,
                 3, 3, 3, 3, 3, 3, 3, 3, 3, 3,
                 3, 3, 3, 3, 3, 3, 3, 3, 3, 3,
                 3, 3, 3, 3, 3, 3, 3, 3, 3, 3,
                 3, 3, 3, 3, 3, 3, 3, 3, 3, 3,
                 3]
tesc_vdn = [-98, -32, -16, -10.5, -8, -10, -8, 0, 2.5, 7,
            12.3, 17.2, 17.8, 20.5, 18, 17.2, 16, 16.5, 15.9, 16.5,
            15.5, 15.6, 17, 15.6, 17.2, 20.8, 17.5, 17.8, 19.6, 15.9,
            18.5, 18, 18, 18.4, 17.5, 18.5, 19.6, 18.4, 17, 18.4,
            17.2, 17.5, 21, 17.2, 19.6, 18, 17.5, 18.5, 18, 18.4,
            18.4, 17.5, 18.4, 17.2, 19, 18.4, 20, 19.2, 18, 17.5,
            18, 18, 19.6, 18, 16, 12, 17, 18.5, 18.8, 18.4,
            19, 19, 17.8, 18.4, 18.4, 18, 17.5, 8, 17.8, 20,
            18.4]
tesc_vdn_sd = [10, 6, 5, 5, 5, 5, 5, 5, 5, 5,
               3, 3, 3, 3, 3, 3, 3, 3, 3, 3,
               3, 3, 3, 3, 3, 3, 3, 3, 3, 3,
               3, 3, 3, 3, 3, 3, 3, 3, 3, 3,
               3, 3, 3, 3, 3, 3, 3, 3, 3, 3,
               3, 3, 3, 3, 3, 3, 3, 3, 3, 3,
               3, 3, 3, 3, 3, 5, 3, 3, 3, 3,
               3, 3, 3, 3, 3, 3, 3, 8, 3, 3,
               3]

panels = [
    ("Train Win Rate", "Win Rate", 0.01,
     [(trwr_hrl, trwr_hrl_sd), (trwr_mappo, trwr_mappo_sd), (trwr_qmix, trwr_qmix_sd),
      (trwr_coma, trwr_coma_sd), (trwr_iql, trwr_iql_sd), (trwr_qtran, trwr_qtran_sd),
      (trwr_vdn, trwr_vdn_sd)]),
    ("Train Final Score", "Final Score", 1.0,
     [(trsc_hrl, trsc_hrl_sd), (trsc_mappo, trsc_mappo_sd), (trsc_qmix, trsc_qmix_sd),
      (trsc_coma, trsc_coma_sd), (trsc_iql, trsc_iql_sd), (trsc_qtran, trsc_qtran_sd),
      (trsc_vdn, trsc_vdn_sd)]),
    ("Test Win Rate", "Win Rate", 0.01,
     [(tewr_hrl, tewr_hrl_sd), (tewr_mappo, tewr_mappo_sd), (tewr_qmix, tewr_qmix_sd),
      (tewr_coma, tewr_coma_sd), (tewr_iql, tewr_iql_sd), (tewr_qtran, tewr_qtran_sd),
      (tewr_vdn, tewr_vdn_sd)]),
    ("Test Final Score", "Final Score", 1.0,
     [(tesc_hrl, tesc_hrl_sd), (tesc_mappo, tesc_mappo_sd), (tesc_qmix, tesc_qmix_sd),
      (tesc_coma, tesc_coma_sd), (tesc_iql, tesc_iql_sd), (tesc_qtran, tesc_qtran_sd),
      (tesc_vdn, tesc_vdn_sd)]),
]
ylims = [(-0.048, 1.06), (-131, 59.3), (-0.048, 1.057), (-128.8, 59.6)]

sns.set_style("ticks")
plt.rcParams.update({
    "font.family": ["Liberation Serif", "DejaVu Serif"],
    "axes.edgecolor": "black",
    "axes.linewidth": 1.2,
    "xtick.color": "black",
    "ytick.color": "black",
    "xtick.major.width": 1.2,
    "ytick.major.width": 1.2,
    "xtick.major.size": 4,
    "ytick.major.size": 4,
})

fig, axes = plt.subplots(2, 2, figsize=(16, 3531 / 333.3125))
fig.subplots_adjust(left=0.0497, right=0.990, top=0.9595, bottom=0.0688,
                    wspace=0.1644, hspace=0.2865)

for ax, (title, ylabel, scale, series), ylim in zip(axes.flat, panels, ylims):
    for name, color, (mean, sd) in zip(methods, colors, series):
        m = np.array(mean) * scale
        s = np.array(sd) * scale
        ax.fill_between(episodes, m - s, m + s, color=color, alpha=0.2, linewidth=0)
        sns.lineplot(x=episodes, y=m, color=color, label=name, ax=ax,
                     linewidth=1.8, errorbar=None)
    ax.set_title(title, fontsize=27)
    ax.set_xlabel("Episode", fontsize=21.5)
    ax.set_ylabel(ylabel, fontsize=21.5)
    ax.set_xlim(0, 80000)
    ax.set_ylim(*ylim)
    ax.xaxis.set_major_locator(MultipleLocator(10000))
    if scale == 1.0:
        ax.yaxis.set_major_locator(MultipleLocator(25))
    else:
        ax.yaxis.set_major_locator(MultipleLocator(0.2))
    ax.ticklabel_format(axis="x", style="sci", scilimits=(0, 0))
    ax.tick_params(labelsize=16)
    ax.xaxis.get_offset_text().set_fontsize(12)
    ax.legend(loc="lower right", fontsize=14.2)

fig.savefig("out.png", dpi=333.3125)
